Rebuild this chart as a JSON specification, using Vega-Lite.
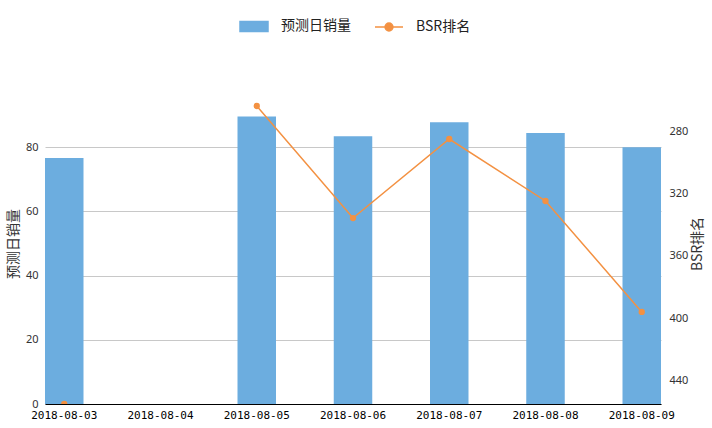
{
  "$schema": "https://vega.github.io/schema/vega-lite/v6.json",
  "autosize": {"type": "none"},
  "width": 616,
  "height": 321,
  "padding": {"left": 45, "top": 83, "right": 51, "bottom": 24},
  "background": "white",
  "config": {
    "view": {"stroke": null},
    "font": "Noto Sans CJK SC"
  },
  "data": {
    "values": [
      {"date": "2018-08-03", "sales": 76.6, "bsr": 455.4},
      {"date": "2018-08-04", "sales": null, "bsr": null},
      {"date": "2018-08-05", "sales": 89.6, "bsr": 263.4},
      {"date": "2018-08-06", "sales": 83.4, "bsr": 335.6},
      {"date": "2018-08-07", "sales": 87.8, "bsr": 284.7},
      {"date": "2018-08-08", "sales": 84.4, "bsr": 324.6},
      {"date": "2018-08-09", "sales": 80.0, "bsr": 396.1}
    ]
  },
  "encoding": {
    "x": {
      "field": "date", "type": "nominal",
      "scale": {"domain": ["2018-08-03", "2018-08-04", "2018-08-05", "2018-08-06", "2018-08-07", "2018-08-08", "2018-08-09"], "paddingInner": 0.6, "paddingOuter": 0},
      "axis": {
        "title": null, "labelAngle": 0, "ticks": false, "domainColor": "#000", "domainWidth": 1,
        "labelFont": "DejaVu Sans Mono", "labelFontSize": 11, "labelColor": "#000", "labelPadding": 5, "grid": false
      }
    }
  },
  "layer": [
    {
      "mark": {"type": "bar", "color": "#6caddf"},
      "encoding": {
        "y": {
          "field": "sales", "type": "quantitative",
          "scale": {"domain": [0, 100], "nice": false},
          "axis": {
            "orient": "left", "title": "预测日销量", "values": [0, 20, 40, 60, 80],
            "domain": false, "ticks": false, "grid": true, "gridColor": "#c8c8c8", "gridWidth": 1,
            "labelFont": "Noto Sans", "labelFontSize": 11, "labelColor": "#333", "labelPadding": 7,
            "titleFont": "Noto Sans CJK SC", "titleFontSize": 14, "titleFontWeight": "normal", "titleColor": "#333", "titlePadding": 5
          }
        },
        "color": {
          "datum": "预测日销量",
          "scale": {"domain": ["预测日销量", "BSR排名"], "range": ["#6caddf", "#f39142"]},
          "legend": {
            "orient": "none", "legendX": 194, "legendY": -72, "direction": "horizontal", "title": null,
            "symbolSize": 784, "symbolType": "M-1,-0.36H1V0.36H-1Z",
            "labelFont": "Noto Sans CJK SC", "labelFontSize": 14, "labelColor": "#222", "labelOffset": 12, "columnPadding": 21,
            "encode": {
              "symbols": {
                "update": {
                  "shape": {"signal": "datum.value === 'BSR排名' ? 'M-1,0H1M-0.28,0A0.28,0.28 0 1,0 0.28,0A0.28,0.28 0 1,0 -0.28,0' : 'M-1,-0.36H1V0.36H-1Z'"},
                  "fill": {"signal": "datum.value === 'BSR排名' ? '#f39142' : '#6caddf'"},
                  "stroke": {"signal": "datum.value === 'BSR排名' ? '#f39142' : null"},
                  "strokeWidth": {"value": 1.5},
                  "opacity": {"value": 1},
                  "fillOpacity": {"value": 1},
                  "strokeOpacity": {"value": 1}
                }
              }
            }
          }
        }
      }
    },
    {
      "mark": {"type": "line", "color": "#f39142", "strokeWidth": 1.5, "invalid": "break-paths-show-domains", "point": {"filled": true, "size": 40, "color": "#f39142"}, "clip": true},
      "encoding": {
        "y": {
          "field": "bsr", "type": "quantitative",
          "scale": {"domain": [248.6, 455.4], "nice": false, "reverse": true, "zero": false},
          "axis": {
            "orient": "right", "title": "BSR排名", "values": [280, 320, 360, 400, 440],
            "domain": false, "ticks": false, "grid": false,
            "labelFont": "Noto Sans", "labelFontSize": 11, "labelColor": "#333", "labelPadding": 8,
            "titleFont": "Noto Sans CJK SC", "titleFontSize": 14, "titleFontWeight": "normal", "titleColor": "#333", "titlePadding": 17, "titleAngle": 270
          }
        },
        "color": {"datum": "BSR排名"}
      }
    }
  ],
  "resolve": {"scale": {"y": "independent"}}
}
